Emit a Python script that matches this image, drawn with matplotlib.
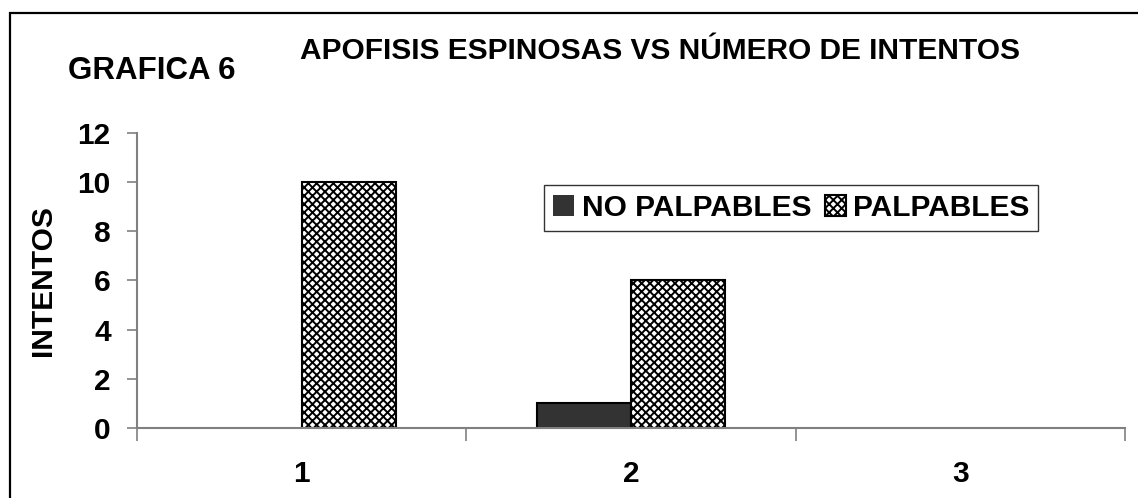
import numpy as np
import matplotlib.pyplot as plt
from matplotlib.patches import Rectangle

categories = ['1', '2', '3']
no_palpables = [0, 1, 0]
palpables = [10, 6, 0]
series_labels = ['NO PALPABLES', 'PALPABLES']
y_ticks = [0, 2, 4, 6, 8, 10, 12]

plt.rcParams['font.family'] = ['Liberation Sans', 'DejaVu Sans']
plt.rcParams['font.weight'] = 'bold'
plt.rcParams['hatch.color'] = '#8a8a8a'
plt.rcParams['hatch.linewidth'] = 1.4

fs = 21.5

fig = plt.figure(figsize=(11.38, 4.98), dpi=100)
ax = fig.add_axes([0.1204, 0.1406, 0.8682, 0.5924])

x = np.arange(1, len(categories) + 1)
w = 0.285
b1 = ax.bar(x - w / 2, no_palpables, w, color='#333333', edgecolor='black',
            linewidth=1.5, label=series_labels[0])
b2 = ax.bar(x + w / 2, palpables, w, color='white', edgecolor='black',
            linewidth=1.5, hatch='xxxx', label=series_labels[1])
# empty bars leave no outline on the axis
for p in list(b1) + list(b2):
    if p.get_height() == 0:
        p.set_linewidth(0)

ax.set_xlim(0.5, 3.5)
ax.set_ylim(0, 12)
ax.set_yticks(y_ticks)
ax.set_yticklabels([str(v) for v in y_ticks], fontsize=fs, fontweight='bold')

# boundary ticks between categories, labels at the centres
ax.set_xticks([0.5, 1.5, 2.5, 3.5])
ax.set_xticklabels([])
ax.set_xticks(x, minor=True)
ax.set_xticklabels(categories, minor=True, fontsize=fs, fontweight='bold')
ax.tick_params(axis='x', which='major', length=9, width=1.2, color='#808080')
ax.tick_params(axis='x', which='minor', length=0, pad=23)
ax.tick_params(axis='y', length=7, width=1.2, color='#808080', pad=12)

for s in ['top', 'right']:
    ax.spines[s].set_visible(False)
for s in ['left', 'bottom']:
    ax.spines[s].set_color('#808080')
    ax.spines[s].set_linewidth(1.5)

ax.set_ylabel('INTENTOS', fontsize=fs, fontweight='bold', labelpad=15)

fig.text(0.58, 0.897, 'APOFISIS ESPINOSAS VS NÚMERO DE INTENTOS',
         ha='center', va='center', fontsize=fs, fontweight='bold')
fig.text(0.133, 0.857, 'GRAFICA 6', ha='center', va='center',
         fontsize=22.5, fontweight='bold')

leg = ax.legend(loc='center', bbox_to_anchor=(0.6955, 0.582),
                bbox_transform=fig.transFigure, ncol=2, fontsize=fs,
                frameon=True, fancybox=False, handlelength=0.7,
                handleheight=0.7, handletextpad=0.25, columnspacing=0.45,
                borderpad=0.3, borderaxespad=0)
leg.get_frame().set_edgecolor('black')
leg.get_frame().set_linewidth(1.0)
for t in leg.get_texts():
    t.set_fontweight('bold')

# outer chart frame
fig.patches.append(Rectangle((10 / 1138, -0.05), 1.1, 1 - 13 / 498 + 0.05,
                             transform=fig.transFigure, fill=False,
                             edgecolor='black', linewidth=1.6))

fig.savefig('out.png', dpi=100)
